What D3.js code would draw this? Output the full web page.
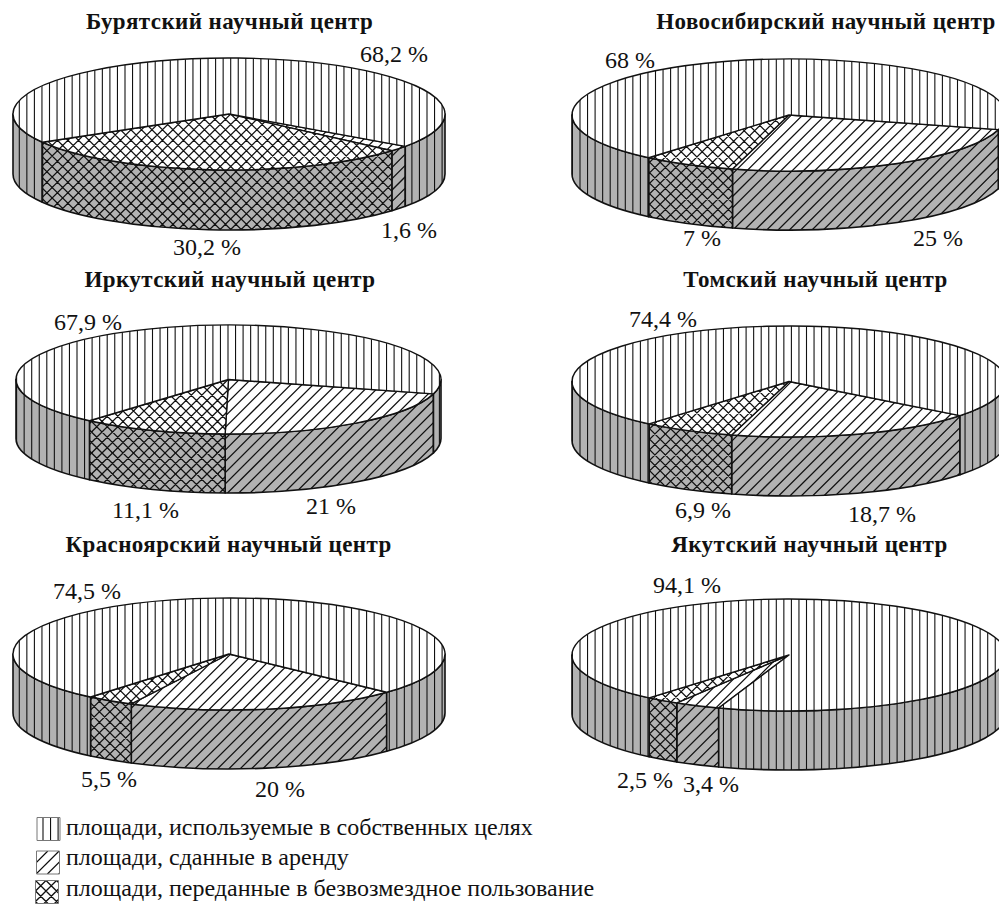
<!DOCTYPE html>
<html>
<head>
<meta charset="utf-8">
<script src="https://cdnjs.cloudflare.com/ajax/libs/d3/7.8.5/d3.min.js"></script>
<style>
  html, body { margin: 0; padding: 0; background: #fff; }
  svg { display: block; }
  text { font-family: "Liberation Serif", serif; fill: #111; }
  .title { font-weight: bold; font-size: 23px; letter-spacing: 0.4px; }
  .pct { font-size: 24px; }
  .legend { font-size: 24px; }
</style>
</head>
<body>
<div id="chart"></div>
<script>
// Data, one entry per centre
const centres = ['Бурятский научный центр', 'Новосибирский научный центр', 'Иркутский научный центр',
                 'Томский научный центр', 'Красноярский научный центр', 'Якутский научный центр'];
// sector shares as drawn; Krasnoyarsk's drawn sectors differ a little from its printed 20 / 5,5 / 74,5
const rented = [1.6, 25, 21, 18.7, 20.5, 3.4];
const free   = [30.2, 7, 11.1, 6.9, 3.6, 2.5];
const own    = [68.2, 68, 67.9, 74.4, 75.9, 94.1];
// printed labels
const rentedLabels = ['1,6 %', '25 %', '21 %', '18,7 %', '20 %', '3,4 %'];
const freeLabels   = ['30,2 %', '7 %', '11,1 %', '6,9 %', '5,5 %', '2,5 %'];
const ownLabels    = ['68,2 %', '68 %', '67,9 %', '74,4 %', '74,5 %', '94,1 %'];
const legendLabels = ['площади, используемые в собственных целях', 'площади, сданные в аренду',
                      'площади, переданные в безвозмездное пользование'];

// Layout: pie ellipse, where the first sector starts (deg, clockwise from 12 o'clock), hatch phase, text spots
const pies = [
  {cx: 229, cy: 114, rx: 216, ry: 56, depth: 60, start: 125.3, hatchX: 1.7, titleX: 229.5, titleY: 29,
   rentedAt: [381, 238], freeAt: [173, 255], ownAt: [360, 62]},
  {cx: 789, cy: 115, rx: 217, ry: 56, depth: 59, start: 105.1, hatchX: 2.4, titleX: 826, titleY: 29,
   rentedAt: [913, 246], freeAt: [683, 246], ownAt: [605, 68]},
  {cx: 228.5, cy: 379.5, rx: 212.5, ry: 54.5, depth: 59, start: 105.3, hatchX: -0.5, titleX: 230, titleY: 287,
   rentedAt: [306, 514], freeAt: [112, 518], ownAt: [54, 330]},
  {cx: 789, cy: 381.5, rx: 217, ry: 55.5, depth: 59, start: 128, hatchX: 2.4, titleX: 815.5, titleY: 287,
   rentedAt: [848, 522], freeAt: [675, 518], ownAt: [629, 327]},
  {cx: 229, cy: 654, rx: 216, ry: 56, depth: 59, start: 133.1, hatchX: 1.7, titleX: 228.5, titleY: 552,
   rentedAt: [255, 797], freeAt: [81, 787], ownAt: [53, 599]},
  {cx: 789, cy: 655, rx: 217, ry: 56, depth: 59, start: 198.9, hatchX: 2.4, titleX: 809.5, titleY: 552,
   rentedAt: [683, 792], freeAt: [617, 788], ownAt: [653, 593]}
];

const width = 999, height = 904;
const wallGray = '#b2b2b2', ink = '#111';
// hatch repeat along x, and line weight
const spacing = {own: 7.55, rented: 11.3, free: 10.5};
const weight = {own: 1.1, rented: 1.25, free: 1.25};

const svg = d3.select('#chart').append('svg')
    .attr('width', width).attr('height', height)
    .attr('viewBox', `0 0 ${width} ${height}`);
const defs = svg.append('defs');

// hatch lines covering a box, as path data; (ox, oy) sets the phase
function hatchLines(kind, box, ox, oy){
    const [x0, y0, x1, y1] = box, s = spacing[kind], p = d3.path();
    if(kind === 'own'){
        const k0 = Math.ceil((x0 - ox)/s), k1 = Math.floor((x1 - ox)/s);
        d3.range(k0, k1 + 1).forEach(k => { p.moveTo(ox + k*s, y0); p.lineTo(ox + k*s, y1); });
        return p.toString();
    }
    // "/" lines, x + y = c
    d3.range(Math.ceil((x0 + y0 - ox - oy)/s), Math.floor((x1 + y1 - ox - oy)/s) + 1).forEach(k => {
        const c = ox + oy + k*s;
        p.moveTo(c - y0, y0); p.lineTo(c - y1, y1);
    });
    // "\" lines, x - y = c
    if(kind === 'free'){
        d3.range(Math.ceil((x0 - y1 - ox + oy)/s), Math.floor((x1 - y0 - ox + oy)/s) + 1).forEach(k => {
            const c = ox - oy + k*s;
            p.moveTo(c + y0, y0); p.lineTo(c + y1, y1);
        });
    }
    return p.toString();
}

let clipCount = 0;
// background, clipped hatch, then outline
function hatched(g, shape, kind, bg, box, ox, oy, edge, edgeWidth){
    const id = `clip-${clipCount++}`;
    defs.append('clipPath').attr('id', id).append('path').attr('d', shape);
    g.append('path').attr('d', shape).attr('fill', bg);
    g.append('path').attr('d', hatchLines(kind, box, ox, oy))
        .attr('clip-path', `url(#${id})`)
        .attr('fill', 'none').attr('stroke', ink).attr('stroke-width', weight[kind]);
    g.append('path').attr('d', shape)
        .attr('fill', 'none').attr('stroke', edge).attr('stroke-width', edgeWidth)
        .attr('stroke-linejoin', 'round');
}

const pt = (d, t) => [d.cx + d.rx*Math.sin(t), d.cy - d.ry*Math.cos(t)];

// sector of the top face
function topPath(d, a0, a1){
    const [x0, y0] = pt(d, a0), [x1, y1] = pt(d, a1);
    const large = a1 - a0 > Math.PI ? 1 : 0;
    return `M${d.cx},${d.cy}L${x0},${y0}A${d.rx},${d.ry} 0 ${large} 1 ${x1},${y1}Z`;
}

// one visible piece of side wall
function wallPath(d, a0, a1){
    const [x0, y0] = pt(d, a0), [x1, y1] = pt(d, a1);
    return `M${x0},${y0}A${d.rx},${d.ry} 0 0 1 ${x1},${y1}L${x1},${y1+d.depth}`
         + `A${d.rx},${d.ry} 0 0 0 ${x0},${y0+d.depth}Z`;
}

// parts of [a0,a1] on the front half of the ellipse
function frontParts(a0, a1){
    const out = [], tau = 2*Math.PI;
    for(let k=-1; k<=1; k++){
        const lo = Math.max(a0, Math.PI/2 + k*tau), hi = Math.min(a1, 3*Math.PI/2 + k*tau);
        if(hi > lo) out.push([lo, hi]);
    }
    return out;
}

const kinds = ['rented', 'free', 'own'];

pies.forEach((d, i) => {
    const g = svg.append('g').attr('class', 'pie');
    const box = [d.cx - d.rx, d.cy - d.ry, d.cx + d.rx, d.cy + d.ry + d.depth];
    const ox = d.cx + d.hatchX, oy = d.cy;

    const start = d.start*Math.PI/180;
    const arcs = d3.pie().sort(null).value(v => v)
        .startAngle(start).endAngle(start + 2*Math.PI)([rented[i], free[i], own[i]]);

    // walls first, the top face sits over them
    arcs.forEach((a, j) => {
        frontParts(a.startAngle, a.endAngle).forEach(([lo, hi]) => {
            hatched(g, wallPath(d, lo, hi), kinds[j], wallGray, box, ox, oy, ink, 1.6);
        });
    });
    arcs.forEach((a, j) => {
        hatched(g, topPath(d, a.startAngle, a.endAngle), kinds[j], '#fff', box, ox, oy, ink, 1.4);
    });

    svg.append('text').attr('class', 'title')
        .attr('x', d.titleX).attr('y', d.titleY).attr('text-anchor', 'middle').text(centres[i]);
    [[rentedLabels[i], d.rentedAt], [freeLabels[i], d.freeAt], [ownLabels[i], d.ownAt]].forEach(([txt, at]) => {
        svg.append('text').attr('class', 'pct').attr('x', at[0]).attr('y', at[1]).text(txt);
    });
});

// legend
const legendX = [37, 36.5, 35.5], legendY = [817.5, 851, 880.5], legendBase = [835, 865, 896];
const legendG = svg.append('g').attr('class', 'legend-keys');
['own', 'rented', 'free'].forEach((k, i) => {
    const x = legendX[i], y = legendY[i], size = 23;
    const shape = `M${x},${y}h${size}v${size}h${-size}Z`;
    hatched(legendG, shape, k, '#fff', [x, y, x + size, y + size], x + (k === 'own' ? 6 : 0), y, '#777', 1);
    svg.append('text').attr('class', 'legend')
        .attr('x', 66).attr('y', legendBase[i]).text(legendLabels[i]);
});
</script>
</body>
</html>
